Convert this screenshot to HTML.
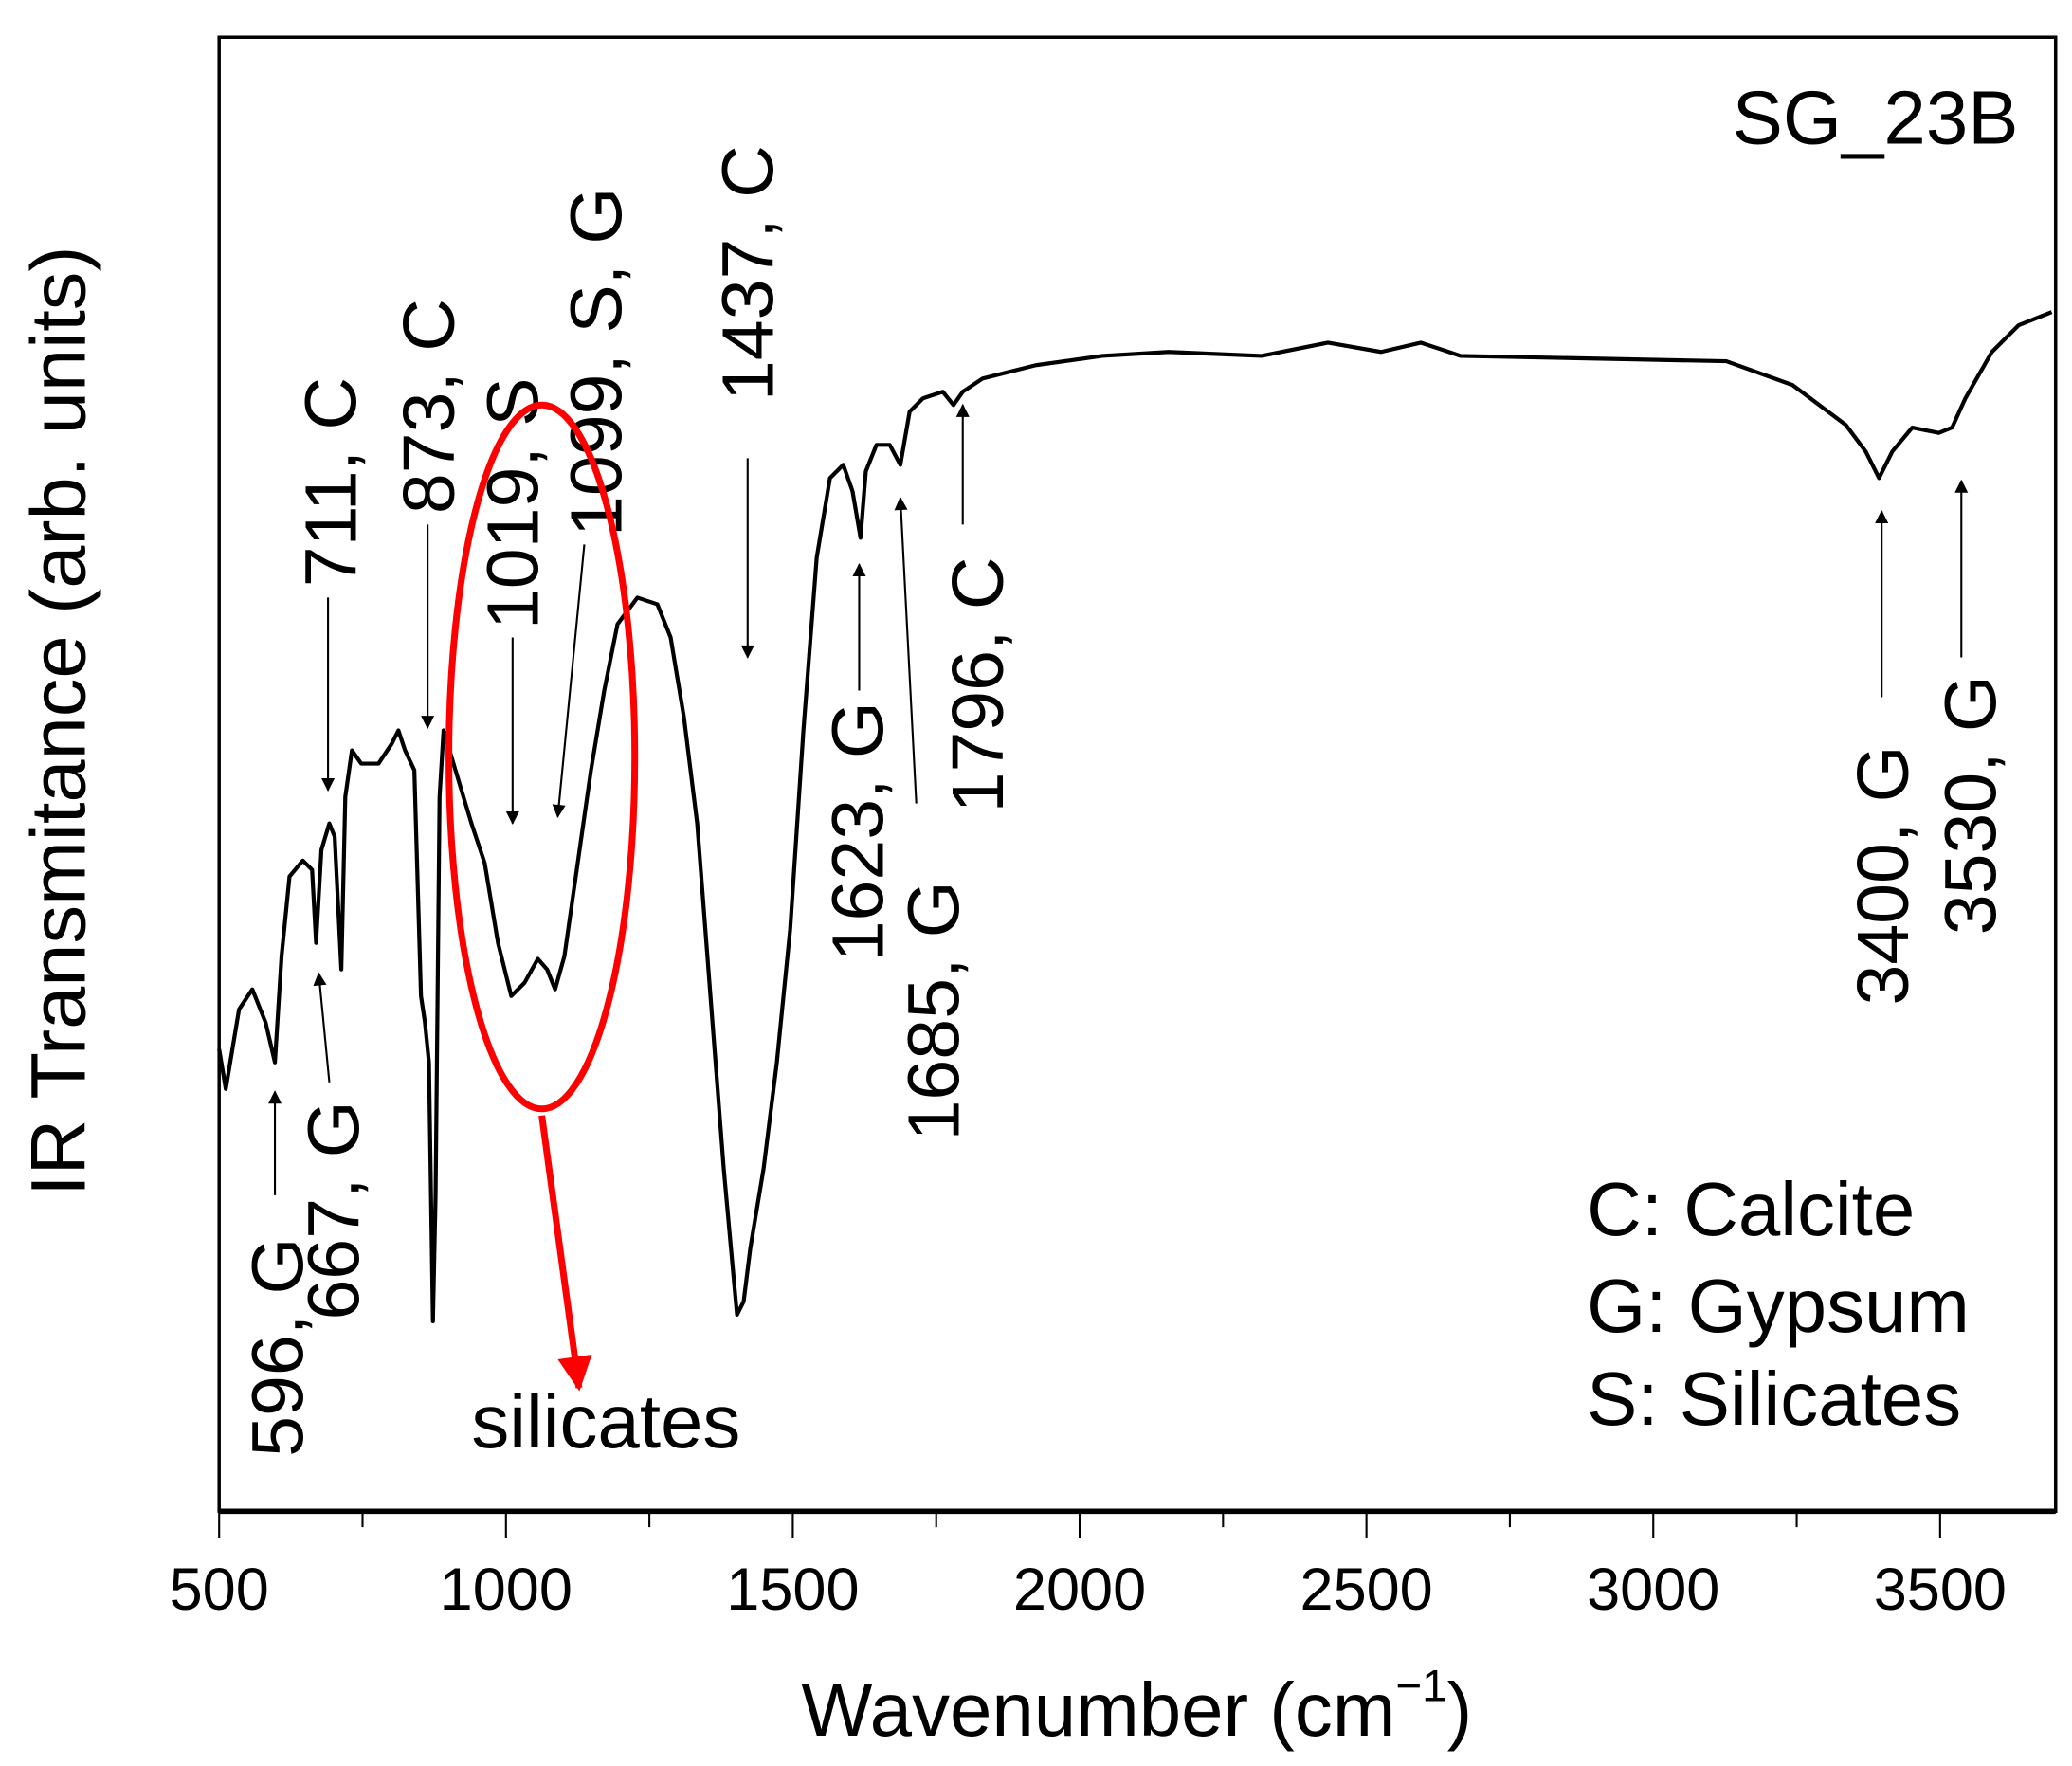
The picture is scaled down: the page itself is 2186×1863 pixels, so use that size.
<!DOCTYPE html>
<html><head><meta charset="utf-8"><style>html,body{margin:0;padding:0;background:#fff}svg{display:block}</style></head>
<body>
<svg width="2186" height="1863" viewBox="0 0 1560.3 1329.8" xmlns="http://www.w3.org/2000/svg" font-family="Liberation Sans, Arial, sans-serif">
<defs><marker id="ah" viewBox="0 0 10 10" refX="9" refY="5" markerWidth="16" markerHeight="10" orient="auto-start-reverse" markerUnits="userSpaceOnUse"><path d="M0,0 L10,5 L0,10 z" fill="#000"/></marker>
<marker id="rh" viewBox="0 0 10 10" refX="9" refY="5" markerWidth="40" markerHeight="26" orient="auto" markerUnits="userSpaceOnUse"><path d="M0,0 L10,5 L0,10 z" fill="#f00"/></marker></defs>
<rect x="165" y="28" width="1383" height="1110" fill="none" stroke="#000" stroke-width="2.5"/>
<line x1="165" y1="1138" x2="1548" y2="1138" stroke="#000" stroke-width="4"/>
<g stroke="#000" stroke-width="1.5">
<line x1="165" y1="1138" x2="165" y2="1158"/><line x1="273" y1="1138" x2="273" y2="1150"/>
<line x1="381" y1="1138" x2="381" y2="1158"/><line x1="489" y1="1138" x2="489" y2="1150"/>
<line x1="597" y1="1138" x2="597" y2="1158"/><line x1="705" y1="1138" x2="705" y2="1150"/>
<line x1="813" y1="1138" x2="813" y2="1158"/><line x1="921" y1="1138" x2="921" y2="1150"/>
<line x1="1029" y1="1138" x2="1029" y2="1158"/><line x1="1137" y1="1138" x2="1137" y2="1150"/>
<line x1="1245" y1="1138" x2="1245" y2="1158"/><line x1="1353" y1="1138" x2="1353" y2="1150"/>
<line x1="1461" y1="1138" x2="1461" y2="1158"/>
</g>
<g font-size="45" text-anchor="middle">
<text x="165" y="1212">500</text><text x="381" y="1212">1000</text><text x="597" y="1212">1500</text><text x="813" y="1212">2000</text><text x="1029" y="1212">2500</text><text x="1245" y="1212">3000</text><text x="1461" y="1212">3500</text>
</g>
<text x="856" y="1307" font-size="57" text-anchor="middle">Wavenumber (cm<tspan dy="-26" font-size="34">−1</tspan><tspan dy="26">)</tspan></text>
<text transform="translate(64,543) rotate(-90)" font-size="58" text-anchor="middle">IR Transmitance (arb. units)</text>
<text x="1520" y="108" font-size="57" text-anchor="end">SG_23B</text>
<g font-size="57"><text x="1195" y="930">C: Calcite</text><text x="1195" y="1003">G: Gypsum</text><text x="1195" y="1073">S: Silicates</text></g>
<text x="355" y="1090" font-size="57">silicates</text>
<polyline fill="none" stroke="#000" stroke-width="3" stroke-linejoin="round" points="165,790 170,820 175,790 180,760 190,745 200,770 207,800 212,720 218,660 228,648 235,655 238,710 242,640 248,620 252,630 257,730 260,600 265,565 272,575 285,575 295,560 300,550 305,565 312,580 317,750 320,770 323,800 326,995 328,900 331,600 334,550 340,570 355,620 365,650 375,710 385,750 395,740 405,722 412,730 418,745 425,720 435,650 445,580 455,520 465,470 480,450 495,455 505,480 515,540 525,620 535,750 545,880 555,990 560,980 565,940 575,880 585,800 595,700 605,550 615,420 625,360 635,350 642,370 648,405 652,355 660,335 670,335 678,350 685,310 695,300 710,295 718,305 725,295 740,285 780,275 830,268 880,265 950,268 1000,258 1040,265 1070,258 1100,268 1200,270 1300,272 1350,290 1390,320 1405,340 1415,360 1425,340 1440,322 1460,326 1470,322 1480,300 1500,265 1520,245 1545,235"/>
<g stroke="#000" stroke-width="1.5" marker-end="url(#ah)">
<line x1="207" y1="900" x2="207" y2="822"/>
<line x1="248" y1="815" x2="240" y2="733"/>
<line x1="247" y1="450" x2="247" y2="595"/>
<line x1="322" y1="395" x2="322" y2="548"/>
<line x1="386" y1="480" x2="386" y2="620"/>
<line x1="440" y1="410" x2="420" y2="615"/>
<line x1="563" y1="345" x2="563" y2="495"/>
<line x1="647" y1="520" x2="647" y2="425"/>
<line x1="690" y1="605" x2="678" y2="375"/>
<line x1="725" y1="395" x2="725" y2="305"/>
<line x1="1417" y1="525" x2="1417" y2="385"/>
<line x1="1477" y1="495" x2="1477" y2="362"/>
</g>
<g font-size="55">
<text transform="translate(228,1097) rotate(-90)">596, G</text>
<text transform="translate(270,994) rotate(-90)">667, G</text>
<text transform="translate(268,442) rotate(-90)">711, C</text>
<text transform="translate(342,387) rotate(-90)">873, C</text>
<text transform="translate(405,474) rotate(-90)">1019, S</text>
<text transform="translate(468,404) rotate(-90)">1099, S, G</text>
<text transform="translate(582,302) rotate(-90)">1437, C</text>
<text transform="translate(665,724) rotate(-90)">1623, G</text>
<text transform="translate(722,859) rotate(-90)">1685, G</text>
<text transform="translate(755,612) rotate(-90)">1796, C</text>
<text transform="translate(1437,757) rotate(-90)">3400, G</text>
<text transform="translate(1503,704) rotate(-90)">3530, G</text>
</g>
<ellipse cx="408" cy="570" rx="70" ry="265" fill="none" stroke="#f00" stroke-width="5"/>
<line x1="408" y1="840" x2="436" y2="1045" stroke="#f00" stroke-width="5" marker-end="url(#rh)"/>
</svg>
</body></html>
